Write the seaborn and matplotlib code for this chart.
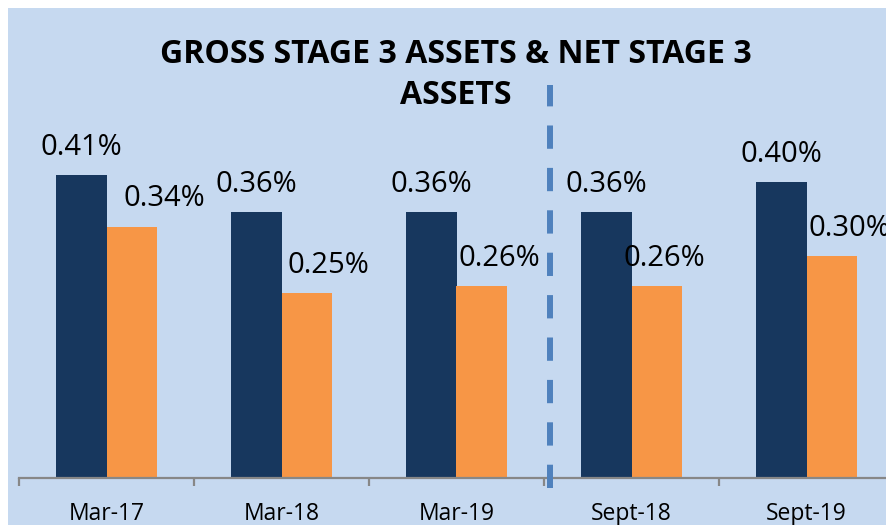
import matplotlib
matplotlib.use("Agg")
import matplotlib.pyplot as plt
import matplotlib.patches as mpatches
from matplotlib.ticker import FixedLocator
import pandas as pd
import seaborn as sns

# Data
periods = ["Mar-17", "Mar-18", "Mar-19", "Sept-18", "Sept-19"]
gross_stage3 = [0.41, 0.36, 0.36, 0.36, 0.40]
net_stage3 = [0.34, 0.25, 0.26, 0.26, 0.30]
series_names = ["Gross Stage 3", "Net Stage 3"]
title_text = "GROSS STAGE 3 ASSETS & NET STAGE 3\nASSETS"

# Styling
NAVY = "#17375E"
ORANGE = "#F79646"
PANEL = "#C6D9F0"
AXIS_GREY = "#878787"
DASH_BLUE = "#4F81BD"
net_label_shift = [24, 16, 13, 6, 13]  # points, horizontal nudge of net labels

df = pd.DataFrame({
    "period": periods * 2,
    "value": gross_stage3 + net_stage3,
    "metric": [series_names[0]] * len(periods) + [series_names[1]] * len(periods),
})

sns.set_theme(style="white")
plt.rcParams["font.family"] = ["Open Sans", "DejaVu Sans"]

W, H = 886, 525
fig = plt.figure(figsize=(W / 100, H / 100), dpi=100, facecolor="white")
# light blue panel behind everything
fig.patches.append(mpatches.Rectangle((8 / W, 0), 1, (H - 8) / H,
                                      transform=fig.transFigure,
                                      facecolor=PANEL, edgecolor="none", zorder=-10))

px_per_unit = 739.0
base_px = 47
top_px = H - 8
ax = fig.add_axes([19 / W, base_px / H, 875 / W, (top_px - base_px) / H])
ax.set_facecolor("none")

sns.barplot(data=df, x="period", y="value", hue="metric", order=periods,
            hue_order=series_names, palette=[NAVY, ORANGE], width=0.572,
            saturation=1, legend=False, ax=ax, linewidth=0)

ax.set_xlim(-0.5, len(periods) - 0.5)
ax.set_ylim(0, (top_px - base_px) / px_per_unit)

for s in ["top", "right", "left"]:
    ax.spines[s].set_visible(False)
ax.spines["bottom"].set_color(AXIS_GREY)
ax.spines["bottom"].set_linewidth(1.6)
ax.set_yticks([])
ax.set_xlabel("")
ax.set_ylabel("")

# category separators as minor ticks, labels at category centres
ax.xaxis.set_minor_locator(FixedLocator([i - 0.5 for i in range(len(periods) + 1)]))
ax.tick_params(axis="x", which="minor", length=6, width=1.6, color=AXIS_GREY,
               direction="out", bottom=True)
ax.tick_params(axis="x", which="major", length=0, pad=17, labelsize=16.5,
               labelcolor="black", bottom=True)

# value labels
for bar, v in zip(ax.containers[0], gross_stage3):
    ax.annotate(f"{v:.2f}%", (bar.get_x() + bar.get_width() / 2, bar.get_height()),
                xytext=(0, 20), textcoords="offset points", ha="center",
                va="center", fontsize=21, color="black")
for bar, v, dx in zip(ax.containers[1], net_stage3, net_label_shift):
    ax.annotate(f"{v:.2f}%", (bar.get_x() + bar.get_width() / 2, bar.get_height()),
                xytext=(dx, 20), textcoords="offset points", ha="center",
                va="center", fontsize=21, color="black", annotation_clip=False)

# dashed divider between annual and half-year periods
ax.plot([2.535, 2.535], [-0.0135, 0.532], color=DASH_BLUE, lw=4.3,
        dashes=(3.9, 3.2), solid_capstyle="butt", dash_capstyle="butt",
        clip_on=False, zorder=5)

fig.text(456 / W, (H - 75) / H, title_text, ha="center", va="center",
         fontsize=23, fontweight="bold", color="black", linespacing=1.35)

fig.savefig("out.png", dpi=100, facecolor="white")
